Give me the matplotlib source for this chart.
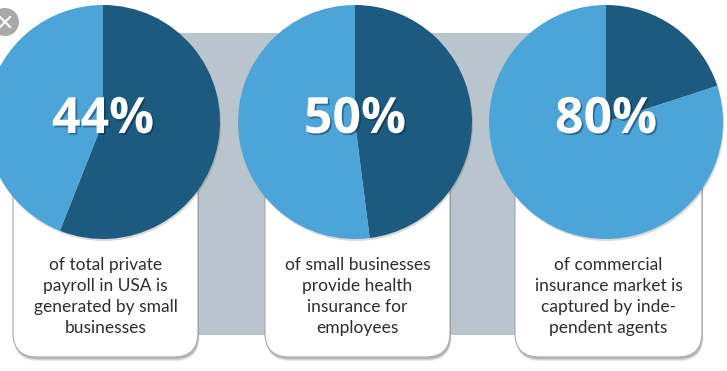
import matplotlib
matplotlib.use("Agg")
import matplotlib.pyplot as plt
import matplotlib.patheffects as pe
from matplotlib.patches import FancyBboxPatch, Circle, Rectangle

# ---- data ----
labels = ["44%", "50%", "80%"]
light_share = [44, 52, 80]          # light-blue slice
dark_share = [56, 48, 20]           # dark-blue slice
captions = [
    "of total private\npayroll in USA is\ngenerated by small\nbusinesses",
    "of small businesses\nprovide health\ninsurance for\nemployees",
    "of commercial\ninsurance market is\ncaptured by inde-\npendent agents",
]

# ---- layout (pixel space, y measured from top) ----
W, H = 727, 371
pie_cx = [103, 355, 606]
pie_cy = 122
pie_r = 117
box_x = [(13, 198), (265, 450), (515, 702)]
box_top, box_bot = 122, 357

DARK = "#1d5a80"
LIGHT = "#4da4d8"
BAND = "#b9c5cd"

fig = plt.figure(figsize=(W / 100, H / 100), dpi=100)
ax = fig.add_axes([0, 0, 1, 1])
fig.patch.set_facecolor("white")

def Y(py):
    return H - py

# grey band
ax.add_patch(Rectangle((100, Y(335)), 510, 335 - 33, facecolor=BAND, edgecolor="none", zorder=1))

# boxes
for (x0, x1) in box_x:
    for k, a in ((4, 0.15), (3, 0.2), (2, 0.25)):
        sh = FancyBboxPatch((x0 + 1, Y(box_bot) - k), x1 - x0, box_bot - box_top,
                            boxstyle="round,pad=0,rounding_size=24",
                            facecolor="#6e6e6e", edgecolor="none", alpha=a, zorder=2)
        ax.add_patch(sh)
    bx = FancyBboxPatch((x0, Y(box_bot)), x1 - x0, box_bot - box_top,
                        boxstyle="round,pad=0,rounding_size=24",
                        facecolor="white", edgecolor="#a8a8a8", linewidth=0.8, zorder=3)
    ax.add_patch(bx)

# pies
for i in range(3):
    cx, cy = pie_cx[i], Y(pie_cy)
    ax.add_patch(Circle((cx + 1, cy - 2), pie_r, facecolor="#555555", alpha=0.22,
                        edgecolor="none", zorder=4))
    wedges, _ = ax.pie([dark_share[i], light_share[i]], colors=[DARK, LIGHT],
                       startangle=90, counterclock=False, center=(cx, cy),
                       radius=pie_r, frame=True,
                       wedgeprops=dict(linewidth=0, edgecolor="none"))
    for w in wedges:
        w.set_zorder(5)
    ax.text(cx, cy + 2, labels[i], ha="center", va="center", color="white",
            fontsize=36, fontweight="bold", family="Open Sans", zorder=6,
            path_effects=[pe.withSimplePatchShadow(offset=(1.2, -1.2),
                                                  shadow_rgbFace="#0a2030", alpha=0.45)])

# captions
for i in range(3):
    x0, x1 = box_x[i]
    ax.text((x0 + x1) / 2, Y(296.5), captions[i], ha="center", va="center",
            color="#2e2e2e", fontsize=12.5, family="Lato", linespacing=1.36, zorder=7)

# close button (screenshot decoration)
ax.add_patch(Circle((5, Y(22)), 14, facecolor="#a9a9a9", edgecolor="none", zorder=8))
ax.plot([0, 10], [Y(17), Y(27)], color="white", lw=1.5, zorder=9)
ax.plot([0, 10], [Y(27), Y(17)], color="white", lw=1.5, zorder=9)

ax.set_xlim(0, W)
ax.set_ylim(0, H)
ax.set_aspect("auto")
ax.axis("off")
fig.savefig("out.png", dpi=100, facecolor="white")
